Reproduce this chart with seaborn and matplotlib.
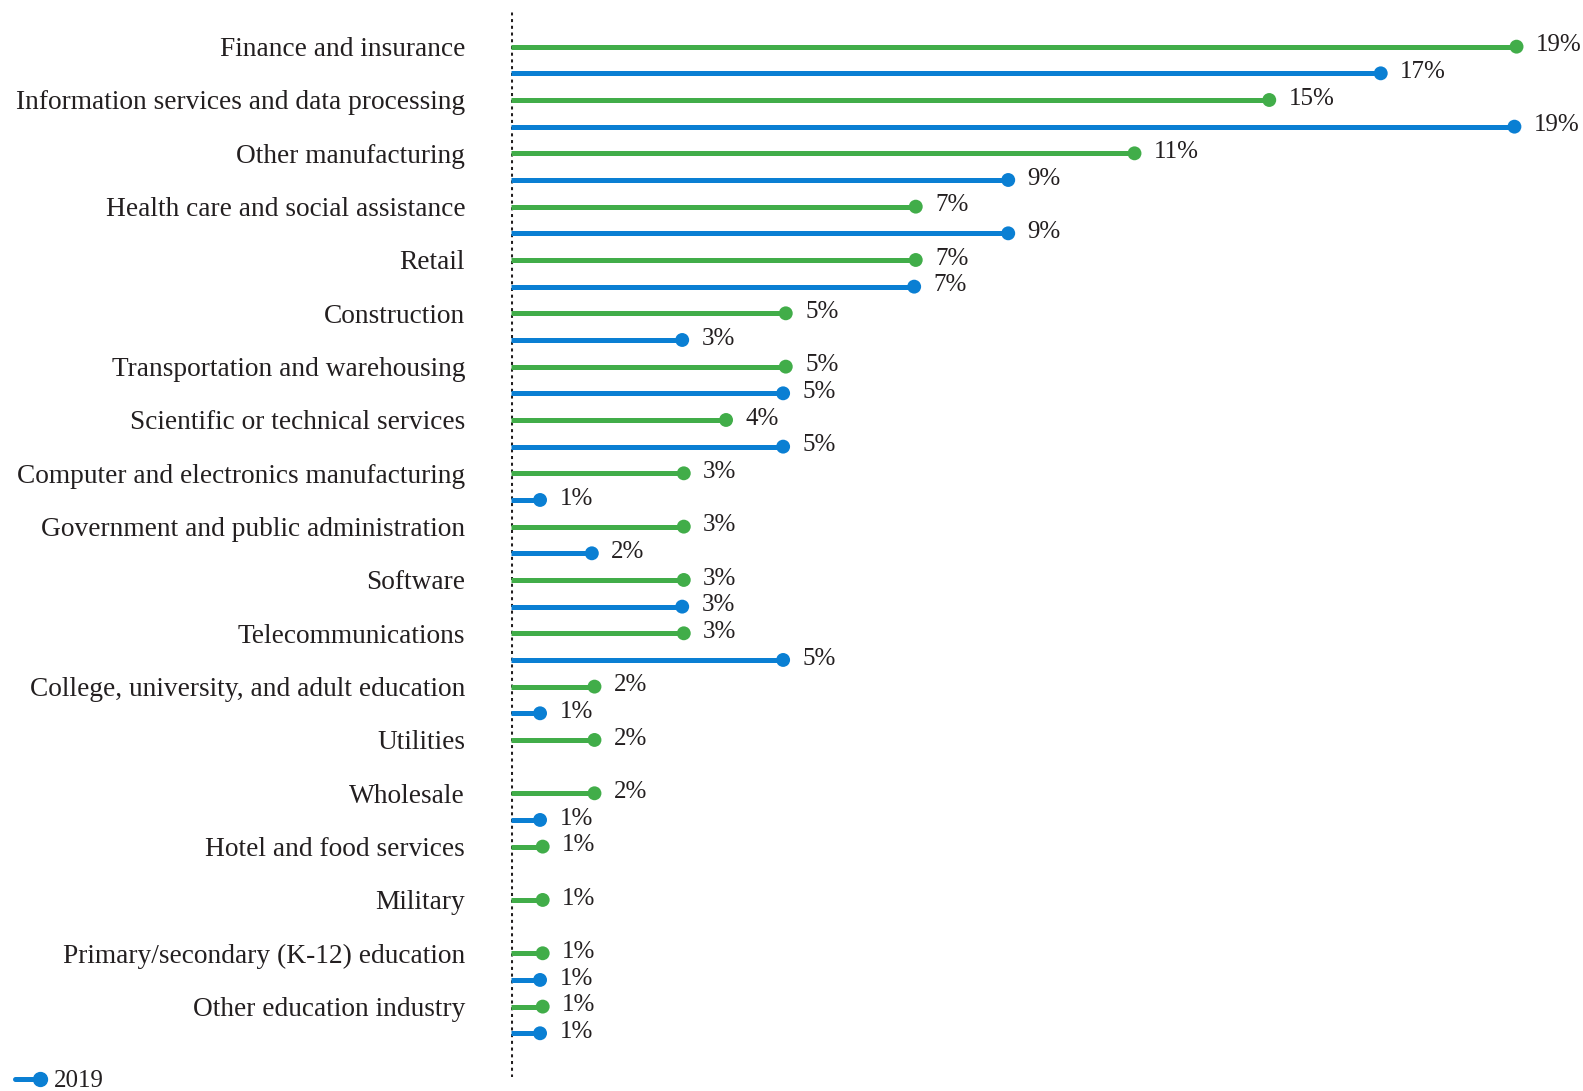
import matplotlib
matplotlib.use('Agg')
import matplotlib.pyplot as plt
import numpy as np
import pandas as pd
import seaborn as sns
from matplotlib.lines import Line2D
from matplotlib.legend_handler import HandlerLine2D

# Data (green = 2018, blue = 2019)
categories = [
    'Finance and insurance',
    'Information services and data processing',
    'Other manufacturing',
    'Health care and social assistance',
    'Retail',
    'Construction',
    'Transportation and warehousing',
    'Scientific or technical services',
    'Computer and electronics manufacturing',
    'Government and public administration',
    'Software',
    'Telecommunications',
    'College, university, and adult education',
    'Utilities',
    'Wholesale',
    'Hotel and food services',
    'Military',
    'Primary/secondary (K-12) education',
    'Other education industry',
]
values_2018 = [19.03, 14.35, 11.80, 7.66, 7.66, 5.20, 5.20, 4.07, 3.27, 3.27,
               3.27, 3.27, 1.58, 1.58, 1.58, 0.60, 0.60, 0.60, 0.60]
labels_2018 = ['19%', '15%', '11%', '7%', '7%', '5%', '5%', '4%', '3%', '3%',
               '3%', '3%', '2%', '2%', '2%', '1%', '1%', '1%', '1%']
values_2019 = [16.46, 18.99, 9.41, 9.41, 7.63, 3.24, 5.15, 5.15, 0.55, 1.53,
               3.24, 5.15, 0.55, np.nan, 0.55, np.nan, np.nan, 0.55, 0.55]
labels_2019 = ['17%', '19%', '9%', '9%', '7%', '3%', '5%', '5%', '1%', '2%',
               '3%', '5%', '1%', None, '1%', None, None, '1%', '1%']

palette = {'2018': '#41ad49', '2019': '#0a7fd3'}
text_color = '#231f20'

# long-form table: each category gets two rows (2018 then 2019)
rows = []
for i, cat in enumerate(categories):
    rows.append(dict(category=cat, pos=2 * i, year='2018', value=values_2018[i], label=labels_2018[i]))
    rows.append(dict(category=cat, pos=2 * i + 1, year='2019', value=values_2019[i], label=labels_2019[i]))
df = pd.DataFrame(rows).dropna(subset=['value'])


class EndDotHandler(HandlerLine2D):
    # lollipop legend key: line with the dot at its right end
    def create_artists(self, legend, orig_handle, xdescent, ydescent, width, height, fontsize, trans):
        artists = super().create_artists(legend, orig_handle, xdescent, ydescent,
                                         width, height, fontsize, trans)
        for a in artists:
            a.set_markevery([len(a.get_xdata()) - 1])
        return artists


sns.set_theme(style='white')
plt.rcParams['font.family'] = ['Liberation Serif', 'DejaVu Serif']

fig = plt.figure(figsize=(15.83, 10.91), dpi=100)
ax = fig.add_axes([511 / 1583, 1 - 1077 / 1091, 1 - 511 / 1583, 1065 / 1091])

# stems
ax.hlines(df['pos'], 0, df['value'], colors=df['year'].map(palette), linewidth=3.6, zorder=2)
# dots
sns.scatterplot(data=df, x='value', y='pos', hue='year', palette=palette, s=100,
                linewidth=0, legend=False, ax=ax, zorder=3)

# value labels
for _, r in df.iterrows():
    ax.annotate(r['label'], (r['value'], r['pos']), xytext=(14, 1), textcoords='offset points',
                ha='left', va='center', fontsize=18, color=text_color, annotation_clip=False)

# dotted baseline
ax.axvline(0, color=text_color, linestyle=(0, (1, 1.2)), linewidth=2.2, zorder=1)

ax.set_xlim(0, 1072 / 52.84)
ax.set_ylim(37 + 1.64, -1.30)
ax.set_yticks([2 * i for i in range(len(categories))])
ax.set_yticklabels(categories, fontsize=19.7, color=text_color)
ax.tick_params(axis='y', length=0, pad=33)
ax.set_xticks([])
ax.set_xlabel('')
ax.set_ylabel('')
sns.despine(ax=ax, left=True, bottom=True)

# legend (only 2019 is visible in the reference)
handle = Line2D([], [], color=palette['2019'], linewidth=3.6, marker='o', markersize=10)
fig.legend([handle], ['2019'], loc='center left', bbox_to_anchor=(15 / 1583, 1 - 1081 / 1091),
           frameon=False, fontsize=18, handlelength=1.0, handletextpad=0.55,
           borderpad=0, borderaxespad=0, numpoints=1, labelcolor=text_color,
           handler_map={Line2D: EndDotHandler()})

fig.savefig('out.png', dpi=100)
